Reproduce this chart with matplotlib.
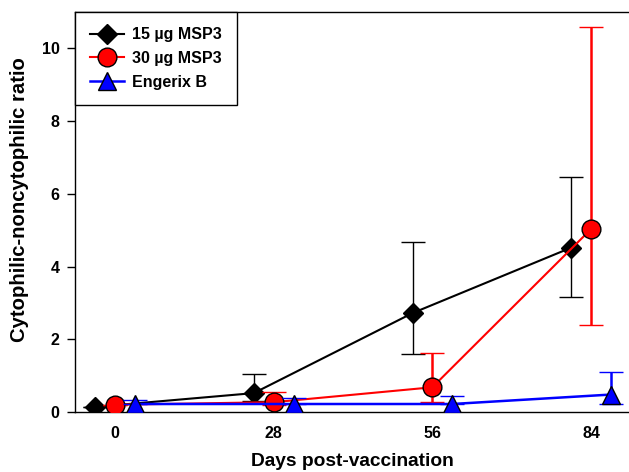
import matplotlib.pyplot as plt
from matplotlib.lines import Line2D

plt.rcParams['font.family'] = ['Liberation Sans', 'DejaVu Sans']
plt.rcParams['font.weight'] = 'bold'

days = [0, 28, 56, 84]
tick_labels = ['0', '28', '56', '84']

# 15 ug MSP3
msp15 = [0.14, 0.52, 2.72, 4.52]
msp15_lo = [0.14, 0.30, 1.60, 3.16]
msp15_hi = [0.14, 1.05, 4.67, 6.45]

# 30 ug MSP3
msp30 = [0.20, 0.27, 0.68, 5.03]
msp30_lo = [0.20, 0.20, 0.28, 2.39]
msp30_hi = [0.20, 0.55, 1.63, 10.58]

# Engerix B
eng = [0.22, 0.22, 0.22, 0.48]
eng_lo = [0.22, 0.22, 0.22, 0.22]
eng_hi = [0.33, 0.38, 0.45, 1.10]

fig = plt.figure(figsize=(6.29, 4.72), dpi=100)
ax = fig.add_axes([0.1192, 0.1271, 0.8808, 0.8475])


def errs(v, lo, hi):
    return [[a - b for a, b in zip(v, lo)], [c - a for a, c in zip(v, hi)]]


shift = 3.5
ax.errorbar([d - shift for d in days], msp15, yerr=errs(msp15, msp15_lo, msp15_hi),
            color='black', lw=1.5, marker='D', ms=10.5, mfc='black', mec='black',
            ecolor='black', elinewidth=1, capsize=8.5, capthick=1, zorder=2)
ax.errorbar(days, msp30, yerr=errs(msp30, msp30_lo, msp30_hi),
            color='red', lw=1.5, marker='o', ms=13.5, mfc='red', mec='black', mew=1,
            ecolor='red', elinewidth=1.8, capsize=8.5, capthick=1.8, zorder=3)
ax.errorbar([d + shift for d in days], eng, yerr=errs(eng, eng_lo, eng_hi),
            color='blue', lw=1.8, marker='^', ms=13.5, mfc='blue', mec='black', mew=1,
            ecolor='blue', elinewidth=1.8, capsize=8.5, capthick=1.8, zorder=4)

ax.set_xlim(-7.06, 90.7)
ax.set_ylim(0, 11.0)
ax.set_xticks(days)
ax.set_xticklabels(tick_labels)
ax.set_yticks([0, 2, 4, 6, 8, 10])
ax.tick_params(axis='x', length=0, pad=10, labelsize=11.5)
ax.tick_params(axis='y', length=6, width=1, pad=5, labelsize=11.5)
ax.spines['right'].set_visible(False)
for s in ['left', 'bottom', 'top']:
    ax.spines[s].set_linewidth(1)

ax.set_xlabel('Days post-vaccination', fontsize=13.8, fontweight='bold', labelpad=9)
ax.set_ylabel('Cytophilic-noncytophilic ratio', fontsize=14.6, fontweight='bold')
ax.yaxis.set_label_coords(-0.083, 0.53)

handles = [
    Line2D([], [], color='black', lw=1.5, marker='D', ms=10.5, mfc='black', mec='black'),
    Line2D([], [], color='red', lw=1.5, marker='o', ms=13.5, mfc='red', mec='black'),
    Line2D([], [], color='blue', lw=1.8, marker='^', ms=13.5, mfc='blue', mec='black'),
]
labels = ['15 µg MSP3', '30 µg MSP3', 'Engerix B']
leg = ax.legend(handles, labels, loc='upper left', bbox_to_anchor=(0, 1), borderaxespad=0,
                fancybox=False, edgecolor='black', framealpha=1, fontsize=11.5,
                handlelength=2.1, handletextpad=0.5,
                borderpad=0.95, labelspacing=0.55)
leg.get_frame().set_linewidth(1)

fig.savefig('out.png', dpi=100)
